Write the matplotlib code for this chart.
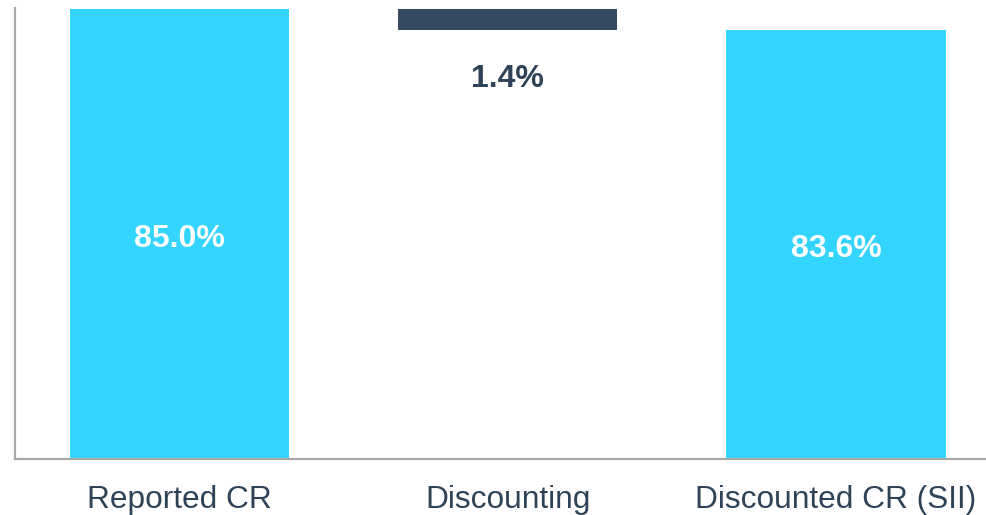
import matplotlib.pyplot as plt
from matplotlib import rcParams
rcParams['font.family'] = ['Liberation Sans', 'DejaVu Sans']

categories = ['Reported CR', 'Discounting', 'Discounted CR (SII)']
reported = 85.0
discounting = 1.4
discounted = 83.6

cyan = '#33D4FF'
navy = '#364B60'
text_col = '#2E4358'

fig = plt.figure(figsize=(9.87, 5.15), dpi=100)
ax = fig.add_axes([15 / 987, 56 / 515, 1 - 15 / 987, 451 / 515])

x = [0, 1, 2]
ax.bar(x[0], reported, width=0.668, color=cyan)
ax.bar(x[1], discounting, bottom=discounted, width=0.668, color=navy)
ax.bar(x[2], discounted, width=0.668, color=cyan)

ymin = 54.3
ax.set_ylim(ymin, 85.1)
ax.set_xlim(-0.5, 2.46)

ax.text(x[0], (reported + ymin) / 2 - 0.3, f'{reported:.1f}%', ha='center', va='center',
        color='white', fontsize=23, fontweight='bold')
ax.text(x[2], (discounted + ymin) / 2 - 0.3, f'{discounted:.1f}%', ha='center', va='center',
        color='white', fontsize=23, fontweight='bold')
ax.text(x[1], discounted - 3.35, f'{discounting:.1f}%', ha='center', va='center',
        color=text_col, fontsize=23, fontweight='bold')

ax.set_xticks(x)
ax.set_xticklabels(categories, fontsize=22.8, color=text_col)
ax.tick_params(axis='x', length=0, pad=19)
ax.set_yticks([])
for s in ['top', 'right']:
    ax.spines[s].set_visible(False)
for s in ['left', 'bottom']:
    ax.spines[s].set_color('#A9A9A9')
    ax.spines[s].set_linewidth(1.6)

plt.savefig('out.png', dpi=100)
